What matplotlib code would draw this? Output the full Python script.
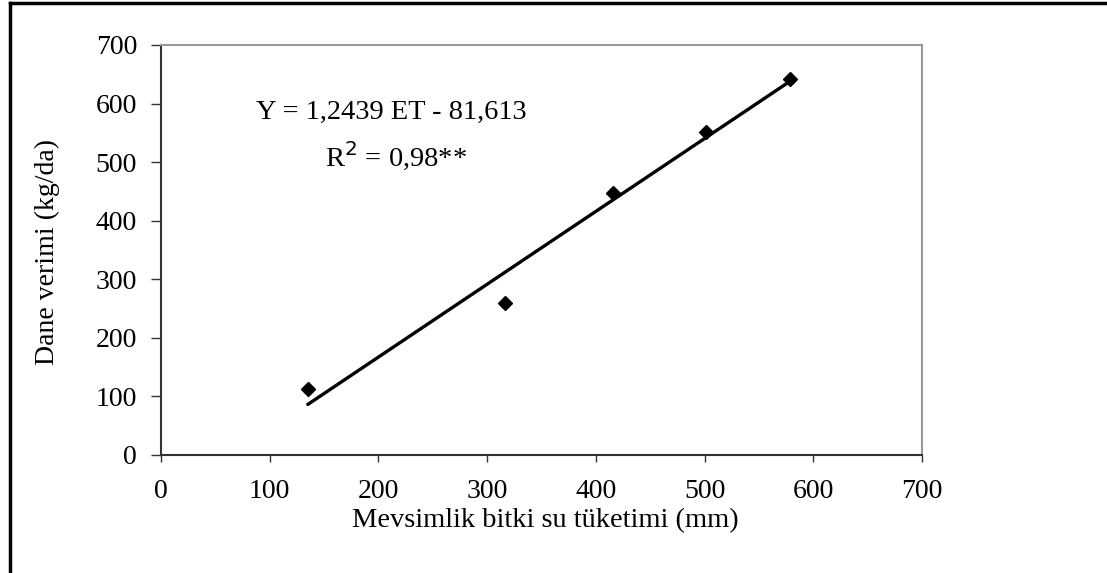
import matplotlib
matplotlib.use('Agg')
import matplotlib.pyplot as plt
from matplotlib.lines import Line2D
import numpy as np

# data
et = [135, 316, 416, 501, 579]          # seasonal ET (mm)
yield_ = [112, 260, 447, 552, 642]      # grain yield (kg/da)
slope = 1.2439
intercept = -81.613
ticks = [0, 100, 200, 300, 400, 500, 600, 700]

plt.rcParams['font.family'] = ['Liberation Serif', 'DejaVu Serif']

fig = plt.figure(figsize=(11.07, 5.73), dpi=100)
ax = fig.add_axes([161/1107, 1-455/573, (922-161)/1107, (455-45)/573])

# regression line over the data range
xl = np.array([min(et), max(et)])
ax.plot(xl, slope*xl + intercept, color='black', linewidth=2.4, solid_capstyle='round')
ax.plot(et, yield_, linestyle='none', marker='D', markersize=7.5, color='black')

ax.set_xlim(0, 700)
ax.set_ylim(0, 700)
ax.set_xticks(ticks)
ax.set_yticks(ticks)
ax.tick_params(labelsize=20, direction='out', width=1, color='#333333')
ax.tick_params(axis='x', length=5, pad=12)
ax.tick_params(axis='y', length=7.2, pad=10)

for s in ['left', 'bottom']:
    ax.spines[s].set_color('#333333')
    ax.spines[s].set_linewidth(1.5)
for s in ['top', 'right']:
    ax.spines[s].set_color('#999999')
    ax.spines[s].set_linewidth(1.5)

ax.text(212, 585, 'Y = 1,2439 ET - 81,613', fontsize=20.5, ha='center', va='center')
ax.text(216, 510, 'R$^2$ = 0,98**', fontsize=20.5, ha='center', va='center')

fig.text(545/1107, 1-521/573, 'Mevsimlik bitki su tüketimi (mm)', fontsize=20.5,
         ha='center', va='center')
fig.text(47/1107, 1-252/573, 'Dane verimi (kg/da)', fontsize=20, rotation=90,
         ha='center', va='center')

# outer frame (top and left only)
fig.add_artist(Line2D([10/1107, 1], [1-3/573, 1-3/573], color='black', linewidth=2.5))
fig.add_artist(Line2D([10/1107, 10/1107], [0, 1-3/573], color='black', linewidth=2.5))

fig.savefig('out.png', dpi=100)
